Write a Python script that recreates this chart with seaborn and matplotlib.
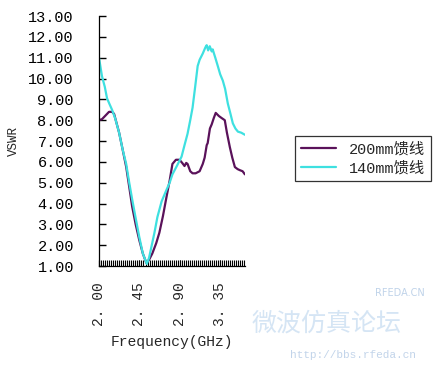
import numpy as np
import pandas as pd
import matplotlib
matplotlib.use("Agg")
import matplotlib.pyplot as plt
from matplotlib.ticker import MultipleLocator, FixedLocator
import seaborn as sns

# 200mm 馈线
freq_200 = [2.000, 2.034, 2.090, 2.112, 2.146, 2.169, 2.225, 2.264, 2.304, 2.338, 2.371,
            2.410, 2.450, 2.490, 2.529, 2.560, 2.596, 2.640, 2.675, 2.715, 2.754, 2.790,
            2.821, 2.860, 2.900, 2.930, 2.956, 2.975, 2.990, 3.020, 3.046, 3.080, 3.125,
            3.160, 3.181, 3.204, 3.215, 3.240, 3.260, 3.283, 3.305, 3.340, 3.372, 3.406,
            3.430, 3.463, 3.490, 3.519, 3.550, 3.575, 3.605, 3.631]
vswr_200 = [8.00, 8.05, 8.30, 8.40, 8.40, 8.30, 7.40, 6.60, 5.76, 4.80, 3.85,
            3.00, 2.25, 1.60, 1.15, 1.30, 1.60, 2.10, 2.60, 3.40, 4.30, 5.10,
            5.90, 6.10, 6.10, 5.95, 5.80, 5.95, 5.90, 5.55, 5.45, 5.45, 5.55,
            5.90, 6.20, 6.80, 6.90, 7.60, 7.80, 8.10, 8.35, 8.20, 8.10, 8.00,
            7.40, 6.70, 6.20, 5.75, 5.65, 5.60, 5.55, 5.40]

# 140mm 馈线
freq_140 = [2.000, 2.034, 2.065, 2.090, 2.120, 2.146, 2.180, 2.225, 2.264, 2.304, 2.338,
            2.371, 2.410, 2.450, 2.490, 2.535, 2.560, 2.585, 2.620, 2.653, 2.700, 2.754,
            2.790, 2.821, 2.870, 2.923, 2.956, 2.990, 3.020, 3.046, 3.075, 3.103, 3.125,
            3.160, 3.190, 3.204, 3.220, 3.238, 3.260, 3.271, 3.300, 3.328, 3.355, 3.384,
            3.410, 3.440, 3.470, 3.496, 3.525, 3.553, 3.590, 3.631]
vswr_140 = [11.00, 10.10, 9.60, 9.05, 8.75, 8.50, 8.10, 7.40, 6.60, 5.90, 5.00,
            4.20, 3.30, 2.40, 1.60, 1.10, 1.40, 1.90, 2.60, 3.35, 4.10, 4.65,
            5.00, 5.40, 5.80, 6.25, 6.80, 7.35, 8.00, 8.60, 9.60, 10.60, 10.90,
            11.20, 11.50, 11.60, 11.35, 11.55, 11.30, 11.40, 11.00, 10.60, 10.20, 9.90,
            9.50, 8.80, 8.30, 7.85, 7.60, 7.45, 7.40, 7.30]

x_ticks = [2.00, 2.45, 2.90, 3.35]
x_labels = ["2. 00", "2. 45", "2. 90", "3. 35"]
y_ticks = list(range(1, 14))

sns.set_style("white")
plt.rcParams["font.family"] = ["Liberation Mono", "Noto Sans CJK SC", "DejaVu Sans"]
plt.rcParams["xtick.bottom"] = True
plt.rcParams["ytick.left"] = True
plt.rcParams["ytick.major.size"] = 5
plt.rcParams["ytick.major.width"] = 1.0
plt.rcParams["ytick.direction"] = "in"
plt.rcParams["ytick.color"] = "black"

df = pd.concat([
    pd.DataFrame({"freq": freq_200, "vswr": vswr_200, "feed": "200mm馈线"}),
    pd.DataFrame({"freq": freq_140, "vswr": vswr_140, "feed": "140mm馈线"}),
])

fig = plt.figure(figsize=(4.33, 3.65), dpi=100)

# watermark (behind everything)
fig.text(0.58, 0.095, "微波仿真论坛", fontsize=18, color="#c4daf0", alpha=0.7,
         family=["Noto Sans CJK SC"], zorder=0)
fig.text(0.865, 0.19, "RFEDA.CN", fontsize=7, color="#a4c0e0", alpha=0.7,
         family=["DejaVu Sans"], zorder=0)
fig.text(0.67, 0.02, "http://bbs.rfeda.cn", fontsize=8, color="#9ab8dc", alpha=0.6,
         zorder=0)

ax = fig.add_axes([0.2286, 0.2712, 0.3372, 0.6849])
ax.patch.set_alpha(0)

sns.lineplot(data=df, x="freq", y="vswr", hue="feed",
             palette={"200mm馈线": "#5a125a", "140mm馈线": "#3ee0e0"},
             linewidth=1.6, estimator=None, sort=False, ax=ax)

ax.set_xlim(2.0, 3.632)
ax.set_ylim(1, 13)
ax.xaxis.set_major_locator(FixedLocator(x_ticks))
ax.xaxis.set_minor_locator(MultipleLocator(0.0225))
ax.set_xticklabels(x_labels, rotation=90, fontsize=10.5)
ax.set_yticks(y_ticks)
ax.set_yticklabels([f"{v:.2f}" for v in y_ticks], fontsize=11)
ax.yaxis.set_ticks_position("left")
ax.tick_params(axis="x", which="both", bottom=True, direction="in", length=4,
               width=0.8, color="black", pad=12)
ax.tick_params(axis="y", which="major", left=True, direction="in", length=5,
               width=1.0, color="black", pad=18)
for side in ["top", "right"]:
    ax.spines[side].set_visible(False)
for side in ["left", "bottom"]:
    ax.spines[side].set_color("black")
    ax.spines[side].set_linewidth(0.9)

ax.set_xlabel("Frequency(GHz)", fontsize=10.5, labelpad=6)
ax.set_ylabel("VSWR", fontsize=9, labelpad=6)

leg = ax.legend(loc="center left", bbox_to_anchor=(1.29, 0.43), frameon=True,
                fancybox=False, edgecolor="black", fontsize=11, handlelength=2.3,
                borderpad=0.4, labelspacing=0.3)
leg.get_frame().set_linewidth(0.9)

fig.savefig("out.png", dpi=100)
